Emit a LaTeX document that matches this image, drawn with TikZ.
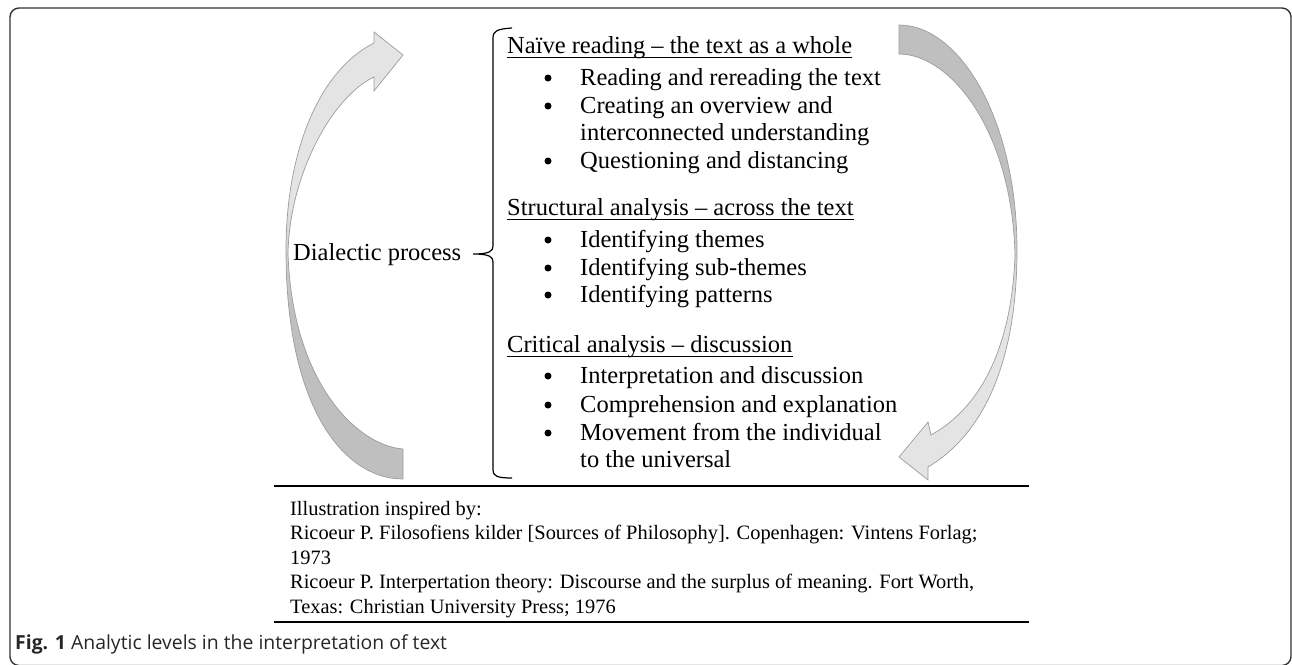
\documentclass[tikz,border=0pt]{standalone}
\usepackage{fontspec}
\setmainfont{Liberation Serif}
\newfontfamily\capfont{Open Sans}
\definecolor{arrowlight}{HTML}{E4E4E4}
\definecolor{arrowdark}{HTML}{BFBFBF}
\definecolor{arrowedge}{HTML}{9C9C9C}
\pgfdeclareverticalshading{lefttone}{100bp}{color(0bp)=(arrowdark); color(44bp)=(arrowdark); color(56bp)=(arrowlight); color(100bp)=(arrowlight)}
\pgfdeclareverticalshading{righttone}{100bp}{color(0bp)=(arrowlight); color(44bp)=(arrowlight); color(56bp)=(arrowdark); color(100bp)=(arrowdark)}
\begin{document}
\begin{tikzpicture}[x=1pt,y=-1pt,
  item/.style={anchor=base west, inner sep=0pt, font=\fontsize{24.5}{28}\selectfont},
  dot/.style={circle, fill=black, inner sep=0pt, minimum size=7pt},
  refs/.style={anchor=base west, inner sep=0pt, font=\fontsize{20.4}{24.4}\selectfont},
  loopshape/.style={draw=arrowedge, line width=0.7pt}]
\useasboundingbox (0,0) rectangle (1292,664);
% Frame
\draw[rounded corners=9pt, line width=1.4pt, black!80] (10,8) rectangle (1291,665.5);
% Circular Arrows
\shadedraw[loopshape, shading=lefttone] (403,479) .. controls (345,479) and (286,410) .. (286,250)
   .. controls (286,150) and (320,70) .. (374,43) -- (374,32) -- (403,55) -- (374,91) -- (374,77)
   .. controls (335,95) and (290,170) .. (288,253) .. controls (292,380) and (355,445) .. (403,449) -- cycle;
\shadedraw[loopshape, shading=righttone] (899,25) .. controls (960,25) and (1017,120) .. (1017,250)
   .. controls (1017,350) and (990,430) .. (928,467) -- (928,480) -- (899,457) -- (928,422) -- (931,435)
   .. controls (985,405) and (1012,340) .. (1015,255) .. controls (1012,130) and (950,54) .. (899,54) -- cycle;
% Brace
\draw[line width=1.2pt] (512,28) .. controls (497,29) and (493,31) .. (493,38) -- (493,246)
   .. controls (493,251) and (490,254) .. (473,254) .. controls (490,254) and (493,257) .. (493,262)
   -- (493,470) .. controls (493,476) and (497,478) .. (512,478);
\node[item] (dial) at (293,260) {Dialectic process};
% Naive reading
\node[item] (naive) at (507,53) {Naïve reading -- the text as a whole};
   \node[dot] (d1) at (548,78) {};
   \node[item] (n1) at (580,85) {Reading and rereading the text};
   \node[dot] (d2) at (548,106) {};
   \node[item] (n2) at (580,113) {Creating an overview and};
   \node[item] (n2b) at (580,140) {interconnected understanding};
   \node[dot] (d3) at (548,161) {};
   \node[item] (n3) at (580,168) {Questioning and distancing};
% Structural analysis
\node[item] (struct) at (507,215) {Structural analysis -- across the text};
   \node[dot] (d4) at (548,240) {};
   \node[item] (s1) at (580,247) {Identifying themes};
   \node[dot] (d5) at (548,268) {};
   \node[item] (s2) at (580,275) {Identifying sub-themes};
   \node[dot] (d6) at (548,295) {};
   \node[item] (s3) at (580,302) {Identifying patterns};
% Critical analysis
\node[item] (crit) at (507,352) {Critical analysis -- discussion};
   \node[dot] (d7) at (548,376) {};
   \node[item] (c1) at (580,383) {Interpretation and discussion};
   \node[dot] (d8) at (548,405) {};
   \node[item] (c2) at (580,412) {Comprehension and explanation};
   \node[dot] (d9) at (548,433) {};
   \node[item] (c3) at (580,440) {Movement from the individual};
   \node[item] (c3b) at (580,467) {to the universal};
% Underlines
\draw[line width=1.3pt] ([yshift=-4.5pt]naive.base west) -- ([yshift=-4.5pt]naive.base east);
\draw[line width=1.3pt] ([yshift=-4.5pt]struct.base west) -- ([yshift=-4.5pt]struct.base east);
\draw[line width=1.3pt] ([yshift=-4.5pt]crit.base west) -- ([yshift=-4.5pt]crit.base east);
% References
\draw[line width=2.6pt] (274,486) -- (1029,486);
\node[refs] (ill) at (290,515) {Illustration inspired by:};
\node[refs] (ref1) at (290,539.5) {Ricoeur P. Filosofiens kilder [Sources of Philosophy]. Copenhagen: Vintens Forlag;};
\node[refs] (ref1b) at (290,564) {1973};
\node[refs] (ref2) at (290,588.5) {Ricoeur P. Interpertation theory: Discourse and the surplus of meaning. Fort Worth,};
\node[refs] (ref2b) at (290,613) {Texas: Christian University Press; 1976};
\draw[line width=2.6pt] (274,622) -- (1029,622);
% Caption
\node[anchor=base west, inner sep=0pt, font=\capfont\fontsize{19.4}{22}\selectfont, text=black!85] (cap) at (15,649)
   {\textbf{Fig. 1} Analytic levels in the interpretation of text};
\end{tikzpicture}
\end{document}
